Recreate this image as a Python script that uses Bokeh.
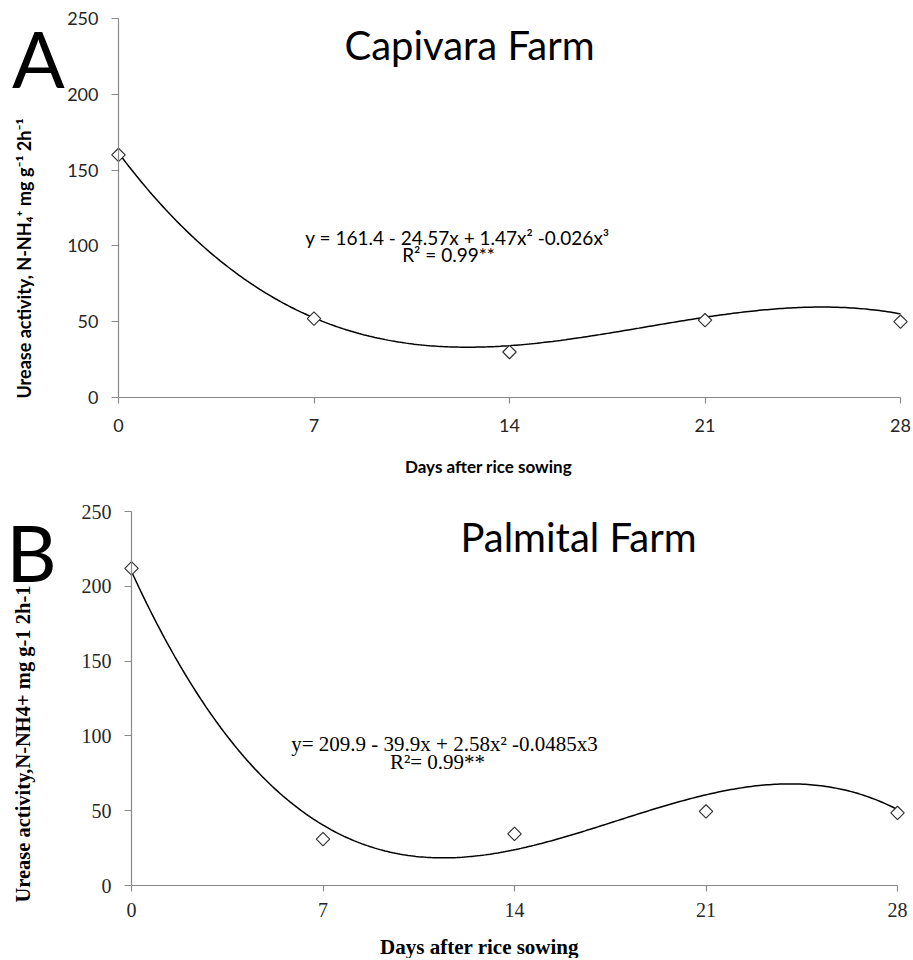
import numpy as np
from bokeh.plotting import figure
from bokeh.models import Range1d, FixedTicker, Label
from bokeh.layouts import column
from bokeh.embed import file_html
from bokeh.resources import INLINE

# ---------------- data ----------------
days = [0, 7, 14, 21, 28]
x_tick_labels = ["0", "7", "14", "21", "28"]
y_ticks = [0, 50, 100, 150, 200, 250]

capivara_values = [160, 52, 30, 51, 50]
palmital_values = [212, 31, 34.5, 49.5, 48.5]

# fitted cubic trend lines (coefficients of 1, x, x^2, x^3 as printed)
capivara_coef = [161.4, -24.57, 1.47, -0.026]
palmital_coef = [209.9, -39.9, 2.58, -0.0485]

capivara_eq = "y = 161.4 - 24.57x + 1.47x\u00b2 -0.026x\u00b3"
capivara_r2 = "R\u00b2 = 0.99**"
palmital_eq = "y= 209.9 - 39.9x + 2.58x\u00b2 -0.0485x3"
palmital_r2 = "R\u00b2= 0.99**"

FIG_W = 913


def make_panel(cfg):
    # layout: pixel positions of the axis ends inside this figure
    H = cfg["height"]
    x0px, x28px = cfg["x_px"]
    y250px, y0px = cfg["y_px"]
    pxd = (x28px - x0px) / 28.0
    pyu = (y0px - y250px) / 250.0
    xr = Range1d(-x0px / pxd, 28 + (FIG_W - x28px) / pxd)
    yr = Range1d(-(H - y0px) / pyu, 250 + y250px / pyu)

    p = figure(width=FIG_W, height=H, x_range=xr, y_range=yr,
               output_backend="svg", toolbar_location=None,
               min_border_left=0, min_border_right=0,
               min_border_top=0, min_border_bottom=0)
    p.grid.visible = False
    p.outline_line_color = None
    p.background_fill_color = "white"
    p.border_fill_color = "white"

    axcol = "#8a8a8a"
    for ax in (p.xaxis[0], p.yaxis[0]):
        ax.fixed_location = 0
        ax.axis_line_color = axcol
        ax.axis_line_width = 1.2
        ax.major_tick_line_color = axcol
        ax.major_tick_line_width = 1.2
        ax.major_tick_in = 0
        ax.minor_tick_line_color = None
        ax.major_label_text_font = cfg["tick_font"]
        ax.major_label_text_font_size = cfg["tick_size"]
        ax.major_label_text_color = "#262626"

    xa = p.xaxis[0]
    xa.ticker = FixedTicker(ticks=days)
    xa.major_label_overrides = {d: l for d, l in zip(days, x_tick_labels)}
    xa.bounds = (0, 28)
    xa.major_tick_out = 6
    xa.major_label_standoff = cfg["x_standoff"]

    ya = p.yaxis[0]
    ya.ticker = FixedTicker(ticks=y_ticks)
    ya.bounds = (0, 250)
    ya.major_tick_out = 7
    ya.major_label_standoff = cfg["y_standoff"]

    # trend line from the printed cubic
    xs = np.linspace(0, 28, 300)
    c = cfg["coef"]
    ys = c[0] + c[1] * xs + c[2] * xs ** 2 + c[3] * xs ** 3
    p.line(xs, ys, line_color="black", line_width=1.5)

    p.scatter(days, cfg["values"], marker="square", angle=np.pi / 4, size=9.5,
              fill_color="white", line_color="#333333", line_width=1.2)

    def dx(px):
        return (px - x0px) / pxd

    def dy(py):
        return (y0px - py) / pyu

    for text, px, py, font, size, style, angle in cfg["labels"]:
        p.add_layout(Label(x=dx(px), y=dy(py - cfg["top"]), x_units="data", y_units="data",
                           text=text, text_font=font, text_font_size=size,
                           text_font_style=style, text_align="center",
                           text_baseline="middle", angle=angle,
                           text_color="black"))
    return p


pa = make_panel(dict(
    top=0, height=480, x_px=(118, 900), y_px=(18, 397),
    tick_font="Lato", tick_size="18px", x_standoff=15, y_standoff=13,
    coef=capivara_coef, values=capivara_values,
    labels=[
        ("A", 38, 57, "Lato", "78px", "normal", 0.0),
        ("Capivara Farm", 469, 44, "Lato", "40px", "normal", 0.0),
        (capivara_eq, 457, 237, "Lato", "19px", "normal", 0.0),
        (capivara_r2, 448, 254, "Lato", "19px", "normal", 0.0),
        ("Days after rice sowing", 488, 466, "Lato", "17px", "bold", 0.0),
        ("Urease activity, N-NH\u2084\u207a mg g\u207b\u00b9 2h\u207b\u00b9", 23, 258,
         "Lato", "18px", "bold", np.pi / 2),
    ],
))

pb = make_panel(dict(
    top=480, height=478, x_px=(131, 897), y_px=(31, 405),
    tick_font="Liberation Serif", tick_size="20px", x_standoff=11, y_standoff=13,
    coef=palmital_coef, values=palmital_values,
    labels=[
        ("B", 31, 551, "Lato", "78px", "normal", 0.0),
        ("Palmital Farm", 578, 536, "Lato", "40px", "normal", 0.0),
        (palmital_eq, 444, 743, "Liberation Serif", "21px", "normal", 0.0),
        (palmital_r2, 437, 761, "Liberation Serif", "21px", "normal", 0.0),
        ("Days after rice sowing", 479, 946, "Liberation Serif", "21px", "bold", 0.0),
        ("Urease activity,N-NH4+  mg g-1 2h-1", 22, 741,
         "Liberation Serif", "20.5px", "bold", np.pi / 2),
    ],
))

layout = column(pa, pb, spacing=0)
open("out.html", "w").write(file_html(layout, INLINE))
